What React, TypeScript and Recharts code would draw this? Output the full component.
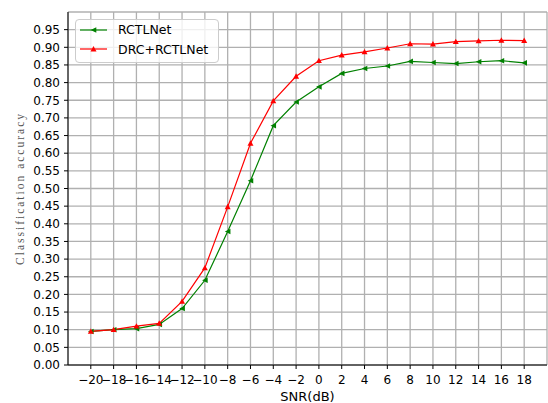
import React from "react";
import { LineChart, Line, XAxis, YAxis, CartesianGrid, Label } from "recharts";

const snr = [-20, -18, -16, -14, -12, -10, -8, -6, -4, -2, 0, 2, 4, 6, 8, 10, 12, 14, 16, 18];
const rctlnet = [0.095, 0.1, 0.103, 0.115, 0.16, 0.24, 0.378, 0.522, 0.678, 0.745, 0.788, 0.826, 0.84, 0.847, 0.86, 0.857, 0.854, 0.859, 0.862, 0.856];
const drcRctlnet = [0.095, 0.1, 0.11, 0.118, 0.18, 0.275, 0.448, 0.628, 0.748, 0.818, 0.862, 0.878, 0.887, 0.898, 0.91, 0.909, 0.916, 0.918, 0.92, 0.919];
const yTicks = [0, 0.05, 0.1, 0.15, 0.2, 0.25, 0.3, 0.35, 0.4, 0.45, 0.5, 0.55, 0.6, 0.65, 0.7, 0.75, 0.8, 0.85, 0.9, 0.95];

const GREEN = "#008000";
const RED = "#ff0000";
const FONT = "'DejaVu Sans', sans-serif";

const data = snr.map((s, i) => ({ snr: s, rctlnet: rctlnet[i], drc: drcRctlnet[i] }));

function TriLeft({ cx, cy, color }: any) {
  const r = 2.8;
  return <polygon points={`${cx - r},${cy} ${cx + r},${cy - r} ${cx + r},${cy + r}`} fill={color} />;
}

function TriUp({ cx, cy, color }: any) {
  const r = 3;
  return <polygon points={`${cx},${cy - r} ${cx + r},${cy + r * 0.8} ${cx - r},${cy + r * 0.8}`} fill={color} />;
}

const series = [
  { name: "RCTLNet", color: GREEN, Marker: TriLeft },
  { name: "DRC+RCTLNet", color: RED, Marker: TriUp }
];

// legend drawn as an overlay so it doesn't shrink the plot area
function LegendBox() {
  return (
    <div
      style={{
        position: "absolute",
        left: 75,
        top: 19,
        width: 142,
        height: 42,
        border: "1px solid #cccccc",
        borderRadius: 4,
        background: "rgba(255,255,255,0.8)",
        fontFamily: FONT,
        fontSize: 12.5,
        color: "#000"
      }}
    >
      {series.map((s) => (
        <div key={s.name} style={{ height: 19.6, display: "flex", alignItems: "center" }}>
          <svg width={42} height={10} style={{ display: "block" }}>
            <line x1={4} x2={31} y1={5} y2={5} stroke={s.color} strokeWidth={1.2} />
            <s.Marker cx={17.5} cy={5} color={s.color} />
          </svg>
          <span>{s.name}</span>
        </div>
      ))}
    </div>
  );
}

const fmt = (v: number) => String(v).replace("-", "\u2212");

export default function App() {
  return (
    <div style={{ position: "absolute", left: 0, top: 0, width: 548, height: 403, background: "#fff" }}>
      <LineChart width={548} height={403} data={data} margin={{ top: 12, right: 1, bottom: 0, left: 8 }}>
        <CartesianGrid stroke="#b0b0b0" strokeWidth={1.3} />
        <XAxis
          dataKey="snr"
          type="number"
          domain={[-22, 20]}
          ticks={snr}
          interval={0}
          height={38}
          tickFormatter={fmt}
          tickSize={4}
          tickMargin={6}
          stroke="#000"
          tick={{ fill: "#000", fontSize: 12, fontFamily: FONT }}
        >
          <Label
            content={({ viewBox }: any) => (
              <text
                x={viewBox.x + viewBox.width / 2}
                y={396}
                textAnchor="middle"
                dominantBaseline="central"
                fontFamily={FONT}
                fontSize={13}
                fill="#000"
              >
                SNR(dB)
              </text>
            )}
          />
        </XAxis>
        <XAxis xAxisId="top" orientation="top" type="number" domain={[-22, 20]} height={0} tick={false} tickLine={false} stroke="#000" />
        <YAxis
          type="number"
          domain={[0, 1]}
          ticks={yTicks}
          interval={0}
          width={60}
          tickFormatter={(v: number) => v.toFixed(2)}
          tickSize={4}
          tickMargin={4}
          stroke="#000"
          tick={{ fill: "#000", fontSize: 12, fontFamily: FONT }}
        >
          <Label
            content={({ viewBox }: any) => {
              const x = viewBox.x + 12;
              const y = viewBox.y + viewBox.height / 2;
              return (
                <text
                  x={x}
                  y={y}
                  transform={`rotate(-90 ${x} ${y})`}
                  textAnchor="middle"
                  dominantBaseline="central"
                  fontFamily="'Liberation Serif', serif"
                  fontSize={11.5}
                  letterSpacing={2}
                  fill="#555"
                >
                  Classification accuracy
                </text>
              );
            }}
          />
        </YAxis>
        <YAxis yAxisId="right" orientation="right" type="number" domain={[0, 1]} width={0} tick={false} tickLine={false} stroke="#000" />
        <Line
          type="linear"
          dataKey="rctlnet"
          name="RCTLNet"
          stroke={GREEN}
          strokeWidth={1.2}
          isAnimationActive={false}
          dot={(p: any) => <TriLeft key={p.index} cx={p.cx} cy={p.cy} color={GREEN} />}
        />
        <Line
          type="linear"
          dataKey="drc"
          name="DRC+RCTLNet"
          stroke={RED}
          strokeWidth={1.2}
          isAnimationActive={false}
          dot={(p: any) => <TriUp key={p.index} cx={p.cx} cy={p.cy} color={RED} />}
        />
      </LineChart>
      <LegendBox />
    </div>
  );
}
